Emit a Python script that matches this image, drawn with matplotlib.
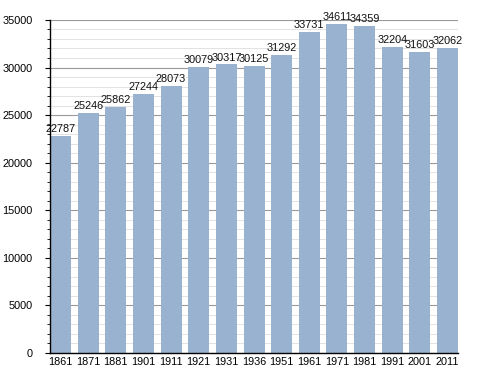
import numpy as np
import matplotlib.pyplot as plt
from matplotlib.ticker import MultipleLocator

# Population by census year
years = ["1861", "1871", "1881", "1901", "1911", "1921", "1931", "1936",
         "1951", "1961", "1971", "1981", "1991", "2001", "2011"]
population = [22787, 25246, 25862, 27244, 28073, 30079, 30317, 30125,
              31292, 33731, 34611, 34359, 32204, 31603, 32062]

plt.rcParams["font.family"] = ["Liberation Sans", "DejaVu Sans"]

fig = plt.figure(figsize=(4.88, 3.73), dpi=100)
ax = fig.add_axes([0.1025, 0.0536, 0.836, 0.893])

x = np.arange(len(years))
ax.bar(x, population, width=0.76, color="#98b2cf", zorder=2)

for xi, val in zip(x, population):
    ax.text(xi, val + 200, str(val), ha="center", va="bottom", fontsize=7.8,
            color="#111111", zorder=3)

ax.set_xlim(-0.38, len(years) - 0.62)
ax.set_ylim(0, 35000)
ax.set_xticks(x)
ax.set_xticklabels(years, fontsize=7.8)
ax.yaxis.set_major_locator(MultipleLocator(5000))
ax.yaxis.set_minor_locator(MultipleLocator(1000))
ax.tick_params(axis="y", labelsize=7.8, length=3.5, which="major", pad=9)
ax.tick_params(axis="y", which="minor", length=2.5)
ax.tick_params(axis="x", length=0, pad=3)

ax.grid(axis="y", which="major", color="#999999", linewidth=0.8, zorder=0)
ax.grid(axis="y", which="minor", color="#e2e2e2", linewidth=0.7, zorder=0)

for side in ["top", "right"]:
    ax.spines[side].set_visible(False)
ax.spines["left"].set_linewidth(1.0)
ax.spines["bottom"].set_linewidth(1.0)

fig.savefig("out.png", dpi=100)
